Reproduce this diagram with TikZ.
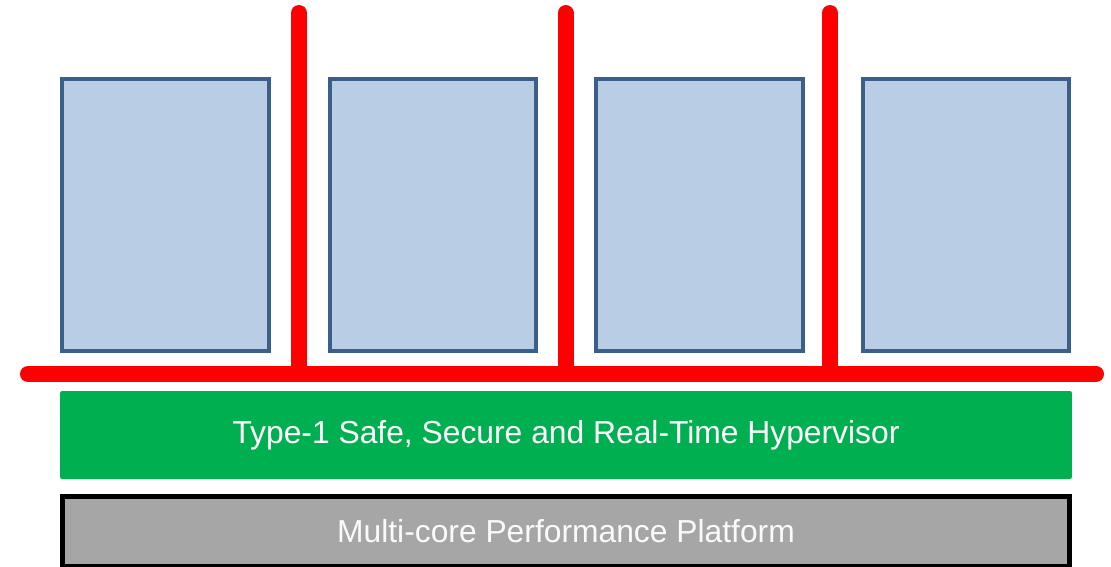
\documentclass[tikz,border=0pt]{standalone}
\usepackage{fontspec}
\setmainfont{Liberation Sans}
\usetikzlibrary{calc}

\definecolor{vmedge}{HTML}{3A5F8B}
\definecolor{vmfill}{HTML}{B9CDE5}
\definecolor{hypgreen}{HTML}{00B050}
\definecolor{hwgray}{HTML}{A6A6A6}

\begin{document}
\begin{tikzpicture}[x=0.02cm,y=-0.02cm,
	vmbox/.style={draw=vmedge, fill=vmfill, line width=0.08cm, inner sep=0pt,
		minimum width=4.14cm, minimum height=5.44cm},
	hypbox/.style={fill=hypgreen, rounded corners=0.04cm, inner sep=0pt,
		minimum width=20.24cm, minimum height=1.76cm, text=white,
		font=\fontsize{18.1}{22}\selectfont},
	hwbox/.style={draw=black, fill=hwgray, line width=0.1cm, inner sep=0pt,
		minimum width=20.14cm, minimum height=1.4cm, text=white!98!black,
		font=\fontsize{18.1}{22}\selectfont},
	bus/.style={draw=red, line width=0.32cm, line cap=round}]
	\useasboundingbox (0,0) rectangle (1111,566);
	% partitions
	\foreach \i/\cx in {1/165.5, 2/433, 3/699.5, 4/966}
		\node[vmbox] (vm\i) at (\cx,215) {};
	% separation bus
	\coordinate (bus-l) at (28,374);
	\coordinate (bus-r) at (1096,374);
	\foreach \i/\cx in {1/299, 2/565.5, 3/830} {
		\coordinate (top\i) at (\cx,13);
		\coordinate (foot\i) at (\cx,374);
	}
	\path[bus] (bus-l) -- (bus-r)
		(foot1) -- (top1)
		(foot2) -- (top2)
		(foot3) -- (top3);
	% layers
	\node[hypbox] (hyp) at (566,435) {Type-1 Safe, Secure and Real-Time Hypervisor};
	\node[hwbox] (hw) at (566,531.5) {Multi-core Performance Platform};
\end{tikzpicture}
\end{document}
